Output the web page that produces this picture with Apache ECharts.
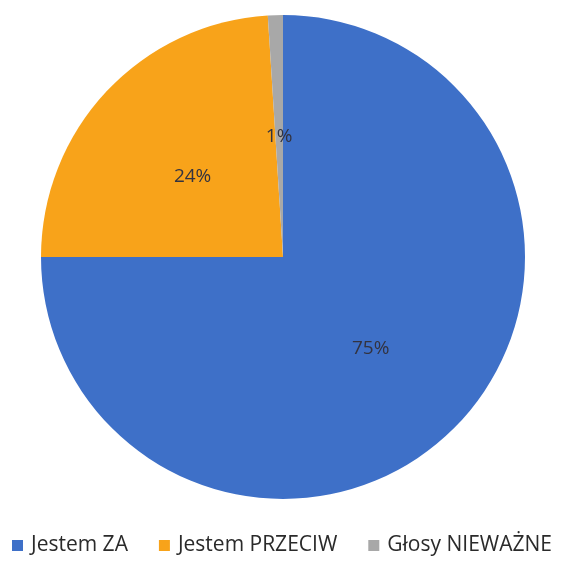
<!DOCTYPE html>
<html><head><meta charset="utf-8">
<script src="https://cdn.jsdelivr.net/npm/echarts@6/dist/echarts.min.js"></script>
<style>html,body{margin:0;padding:0;background:#fff}#c{width:564px;height:562px}</style>
</head><body><div id="c"></div>
<script>
const categories = ["Jestem ZA", "Jestem PRZECIW", "Głosy NIEWAŻNE"];
const values = [75, 24, 1];
const colors = ["#3E70C8", "#F8A31A", "#A8A8A8"];
const chart = echarts.init(document.getElementById('c'), null, {renderer: 'canvas'});
chart.setOption({
  backgroundColor: '#fff',
  animation: false,
  color: colors,
  legend: {
    top: 535, left: 12, itemWidth: 11, itemHeight: 11, itemGap: 31,
    icon: 'rect', padding: 0,
    textStyle: {fontFamily: 'Open Sans', fontSize: 21, color: '#2a2a2a', padding: [0, 0, 0, 3]},
    data: categories
  },
  series: [{
    type: 'pie', center: [283, 257], radius: [0, 242], startAngle: 90, clockwise: true,
    label: {position: 'inner', formatter: '{d}%', fontFamily: 'Open Sans', fontSize: 19, color: '#333340', offset: [0, 4]},
    labelLine: {show: false},
    itemStyle: {borderWidth: 0},
    data: categories.map((n, i) => ({name: n, value: values[i]}))
  }]
});
</script></body></html>
